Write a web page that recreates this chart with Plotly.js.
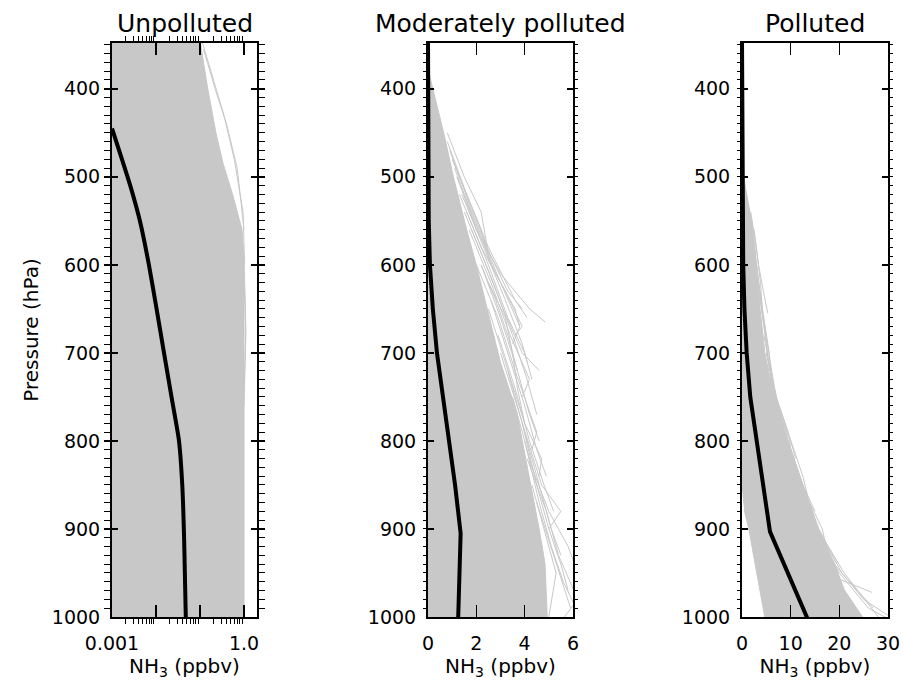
<!DOCTYPE html>
<html><head><meta charset="utf-8">
<script src="https://cdn.plot.ly/plotly-3.0.1.min.js"></script>
<style>html,body{margin:0;padding:0;background:#fff}</style>
</head><body><div id="chart" style="width:904px;height:681px"></div>
<script>
const panelTitles = ["Unpolluted", "Moderately polluted", "Polluted"];
const xTitleText = "NH<sub>3</sub> (ppbv)";
const yTitleText = "Pressure (hPa)";
const pressureTicks = [400, 500, 600, 700, 800, 900, 1000];
const pressureRange = [1000, 348];
const logLabelVals = [0.001, 1];
const logLabelText = ["0.001", "1.0"];
const logMidMajorVals = [0.01, 0.1];
const logMinorVals = [0.002,0.003,0.004,0.005,0.006,0.007,0.008,0.009,
                      0.02,0.03,0.04,0.05,0.06,0.07,0.08,0.09,
                      0.2,0.3,0.4,0.5,0.6,0.7,0.8,0.9];
const x2Ticks = [0, 2, 4, 6];
const x3Ticks = [0, 10, 20, 30];

// ---- Unpolluted ----
const envP1  = [345, 400, 450, 484, 520, 560, 590, 650, 700, 800, 900, 1010];
const envLo1 = [0.0005,0.0005,0.0005,0.0005,0.0005,0.0005,0.0005,0.0005,0.0005,0.0005,0.0005,0.0005];
const envHi1 = [0.10, 0.15, 0.23, 0.33, 0.55, 0.90, 1.0, 1.02, 1.02, 1.0, 1.0, 1.0];
const meanP1 = [445, 510, 550, 600, 650, 700, 750, 800, 850, 910, 1010];
const meanX1 = [0.001, 0.0026, 0.0043, 0.0069, 0.0103, 0.0152, 0.0225, 0.0333, 0.0395, 0.0435, 0.048];
const extraP1 = [[345, 390, 430, 480, 540, 600], [355, 400, 440, 490, 560], [600, 640, 680, 720, 760], [620, 670, 700, 740]];
const extraX1 = [[0.11, 0.2, 0.35, 0.6, 0.95, 1.03], [0.12, 0.22, 0.4, 0.7, 1.0], [1.0, 1.07, 1.1, 1.06, 1.0], [1.0, 1.09, 1.07, 1.0]];

// ---- Moderately polluted ----
const envP2  = [378, 400, 450, 500, 560, 600, 655, 711, 768, 845, 900, 939, 1010];
const envLo2 = [0, 0, 0, 0, 0, 0, 0, 0, 0, 0, 0, 0, 0];
const envHi2 = [0, 0.18, 0.65, 1.05, 1.6, 2.0, 2.5, 3.0, 3.68, 4.22, 4.6, 4.84, 4.95];
const meanP2 = [345, 450, 500, 550, 600, 650, 700, 750, 800, 850, 905, 1010];
const meanX2 = [0, 0, 0.01, 0.03, 0.08, 0.2, 0.37, 0.62, 0.91, 1.12, 1.35, 1.24];
const extraP2 = [
  [500, 560, 610, 650, 665], [520, 580, 630, 670, 680], [540, 600, 650, 700, 720],
  [560, 620, 680, 730, 750], [600, 660, 720, 790, 810], [650, 720, 780, 820, 840],
  [700, 780, 850, 880, 900], [750, 830, 880, 920, 950], [800, 870, 920, 960, 1000],
  [820, 880, 930, 980, 1005], [850, 900, 950, 1000], [870, 930, 990],
  [450, 500, 540, 580], [480, 520, 560, 600], [600, 640, 680, 720], [620, 660, 700, 740, 780],
  [460, 520, 580, 640, 660], [470, 530, 590, 630, 650], [490, 550, 610, 650, 670],
  [500, 560, 620, 670, 690], [520, 580, 640, 690, 710], [540, 600, 660, 700, 730],
  [560, 620, 680, 730, 770], [600, 660, 720, 770, 800], [640, 700, 760, 810, 840],
  [680, 740, 800, 850, 880], [720, 790, 850, 900, 930], [780, 850, 900, 940, 970]
];
const extraX2 = [
  [1.2, 2.0, 3.0, 4.2, 4.85], [1.3, 2.2, 3.2, 3.9, 3.6], [1.5, 2.4, 3.1, 3.9, 4.6],
  [1.7, 2.6, 3.4, 4.2, 3.9], [2.0, 2.9, 3.6, 4.5, 4.3], [2.5, 3.3, 4.0, 4.7, 4.6],
  [3.0, 3.9, 4.7, 5.5, 5.0], [3.5, 4.3, 5.0, 5.8, 6.2], [4.0, 4.6, 5.1, 5.6, 6.3],
  [4.1, 4.9, 5.4, 6.2, 5.5], [4.3, 4.8, 5.3, 5.0], [4.5, 5.2, 5.9],
  [0.8, 1.5, 2.2, 2.45], [1.0, 1.6, 2.2, 2.6], [2.2, 2.8, 3.3, 3.7], [2.5, 3.2, 3.5, 3.7, 4.0],
  [0.8, 1.6, 2.5, 3.6, 4.1], [0.9, 1.7, 2.6, 3.3, 3.9], [1.1, 1.9, 2.8, 3.6, 3.8],
  [1.2, 2.1, 3.0, 3.8, 3.5], [1.4, 2.3, 3.2, 3.9, 4.1], [1.6, 2.5, 3.3, 4.0, 4.3],
  [1.8, 2.7, 3.5, 4.1, 4.5], [2.2, 3.0, 3.7, 4.2, 4.6], [2.6, 3.3, 4.0, 4.5, 4.9],
  [2.9, 3.6, 4.2, 4.8, 5.2], [3.3, 4.0, 4.6, 5.1, 5.5], [3.9, 4.5, 5.0, 5.5, 5.8]
];

// ---- Polluted ----
const envP3  = [490, 530, 560, 600, 650, 700, 750, 790, 850, 882, 901, 939, 969, 1010];
const envLo3 = [0, 0, 0, 0, 0, 0, 0, 0, 0, 0.6, 1.44, 2.67, 3.6, 5.0];
const envHi3 = [0, 1.3, 2.3, 2.9, 3.7, 4.7, 6.6, 8.8, 12.5, 14.5, 15.6, 19.0, 21.0, 26.0];
const meanP3 = [345, 520, 600, 650, 700, 750, 800, 903, 1010];
const meanX3 = [0, 0.05, 0.25, 0.5, 0.96, 1.7, 3.0, 5.75, 14.1];
const extraP3 = [
  [560, 600, 630, 655], [650, 700, 750, 790], [700, 760, 800, 830], [750, 800, 840, 865],
  [800, 860, 900, 925], [850, 920, 955, 972], [880, 940, 980, 1000], [900, 950, 990, 1005],
  [600, 650, 700, 740], [700, 750, 790, 820], [760, 810, 850, 880],
  [540, 580, 620, 660], [580, 630, 680, 720], [620, 680, 730, 770], [680, 740, 790, 830],
  [740, 800, 850, 890], [790, 850, 900, 940], [850, 900, 950, 990], [900, 950, 1000]
];
const extraX3 = [
  [2.5, 3.4, 4.4, 5.3], [4.0, 5.5, 7.0, 8.4], [5.0, 7.5, 9.8, 10.5], [7.0, 10.0, 12.5, 13.6],
  [9.5, 13.0, 16.5, 17.5], [12.0, 17.0, 19.1, 26.7], [14.0, 19.0, 25.0, 30.5], [15.0, 20.0, 26.0, 31.0],
  [3.0, 4.2, 5.6, 6.2], [5.0, 7.0, 9.5, 11.0], [7.5, 10.0, 12.5, 15.0],
  [1.8, 2.9, 3.8, 4.3], [2.6, 3.6, 4.8, 5.6], [3.2, 4.8, 6.0, 7.4], [4.5, 6.5, 8.5, 10.8],
  [6.3, 9.4, 12.5, 15.0], [8.8, 12.0, 15.5, 19.5], [12.5, 15.8, 20.5, 27.0], [15.6, 21.0, 28.0]
];

const GRAY = '#c8c8c8';
const FONT = 'DejaVu Sans, sans-serif';
const traces = [];
function addPanel(envP, lo, hi, exP, exX, mP, mX, xa, ya, meanShape) {
  traces.push({x: lo.concat(hi.slice().reverse()), y: envP.concat(envP.slice().reverse()),
    mode: 'lines', fill: 'toself', fillcolor: GRAY, line: {color: GRAY, width: 1},
    xaxis: xa, yaxis: ya, hoverinfo: 'skip', showlegend: false});
  exP.forEach((p, i) => traces.push({x: exX[i], y: p, mode: 'lines',
    line: {color: GRAY, width: 1}, xaxis: xa, yaxis: ya, hoverinfo: 'skip', showlegend: false}));
  traces.push({x: mX, y: mP, mode: 'lines', line: Object.assign({color: '#000', width: 4}, meanShape || {}),
    xaxis: xa, yaxis: ya, showlegend: false});
}
addPanel(envP1, envLo1, envHi1, extraP1, extraX1, meanP1, meanX1, 'x', 'y', {shape: 'spline', smoothing: 0.6});
addPanel(envP2, envLo2, envHi2, extraP2, extraX2, meanP2, meanX2, 'x2', 'y2');
addPanel(envP3, envLo3, envHi3, extraP3, extraX3, meanP3, meanX3, 'x3', 'y3');
// invisible carrier so the overlaying log axis (decade ticks 0.01, 0.1) is drawn
traces.push({x: logMidMajorVals, y: [null, null], xaxis: 'x4', yaxis: 'y', mode: 'markers',
  marker: {opacity: 0}, hoverinfo: 'skip', showlegend: false});

const W = 904, H = 681;
const xDom = [[112/W, 257/W], [428/W, 573/W], [742/W, 888/W]];
const yDom = [1 - 617/H, 1 - 43/H];
const tickFont = {family: FONT, size: 19, color: '#000'};
const titleFont = {family: FONT, size: 20, color: '#000'};

function xAxis(i, extra) {
  return Object.assign({
    domain: xDom[i], anchor: i === 0 ? 'y' : 'y' + (i + 1),
    showline: true, linecolor: '#000', linewidth: 2, mirror: 'allticks',
    ticks: 'inside', ticklen: 12, tickwidth: 1.5, tickcolor: '#000',
    showgrid: false, zeroline: false, tickfont: tickFont, ticklabelstandoff: 8,
    title: {text: xTitleText, font: titleFont, standoff: 6}, fixedrange: true
  }, extra);
}
function yAxis(i, withTitle) {
  const ax = {
    domain: yDom, anchor: i === 0 ? 'x' : 'x' + (i + 1),
    range: pressureRange, tickmode: 'array', tickvals: pressureTicks,
    showline: true, linecolor: '#000', linewidth: 2, mirror: 'allticks',
    ticks: 'inside', ticklen: 6, tickwidth: 1.5, tickcolor: '#000',
    minor: {dtick: 10, tick0: 0, ticklen: 3, tickwidth: 1, tickcolor: '#000', showgrid: false},
    showgrid: false, zeroline: false, tickfont: tickFont, ticklabelstandoff: 6,
    fixedrange: true
  };
  if (withTitle) ax.title = {text: yTitleText, font: titleFont, standoff: 8};
  return ax;
}

const layout = {
  width: W, height: H, margin: {l: 0, r: 0, t: 0, b: 0},
  paper_bgcolor: '#fff', plot_bgcolor: '#fff', showlegend: false,
  xaxis: xAxis(0, {type: 'log', range: [-3, 0.295], tickmode: 'array', tickvals: logLabelVals, ticktext: logLabelText,
    minor: {tickmode: 'array', tickvals: logMinorVals, ticklen: 5, tickwidth: 1, tickcolor: '#000', showgrid: false}}),
  xaxis4: {type: 'log', range: [-3, 0.295], overlaying: 'x', anchor: 'y', side: 'bottom',
    tickmode: 'array', tickvals: logMidMajorVals, showticklabels: false,
    ticks: 'inside', ticklen: 12, tickwidth: 1.5, tickcolor: '#000', mirror: 'allticks',
    showline: false, showgrid: false, zeroline: false, fixedrange: true},
  xaxis2: xAxis(1, {range: [0, 6], tickmode: 'array', tickvals: x2Ticks}),
  xaxis3: xAxis(2, {range: [0, 30], tickmode: 'array', tickvals: x3Ticks}),
  yaxis: yAxis(0, true), yaxis2: yAxis(1, false), yaxis3: yAxis(2, false),
  annotations: panelTitles.map((t, i) => ({
    text: t, xref: 'paper', yref: 'paper', x: (xDom[i][0] + xDom[i][1]) / 2, y: 1 - 23/H,
    xanchor: 'center', yanchor: 'middle', showarrow: false,
    font: {family: FONT, size: 25, color: '#000'}
  }))
};
Plotly.newPlot('chart', traces, layout, {staticPlot: true, displayModeBar: false});
</script></body></html>
